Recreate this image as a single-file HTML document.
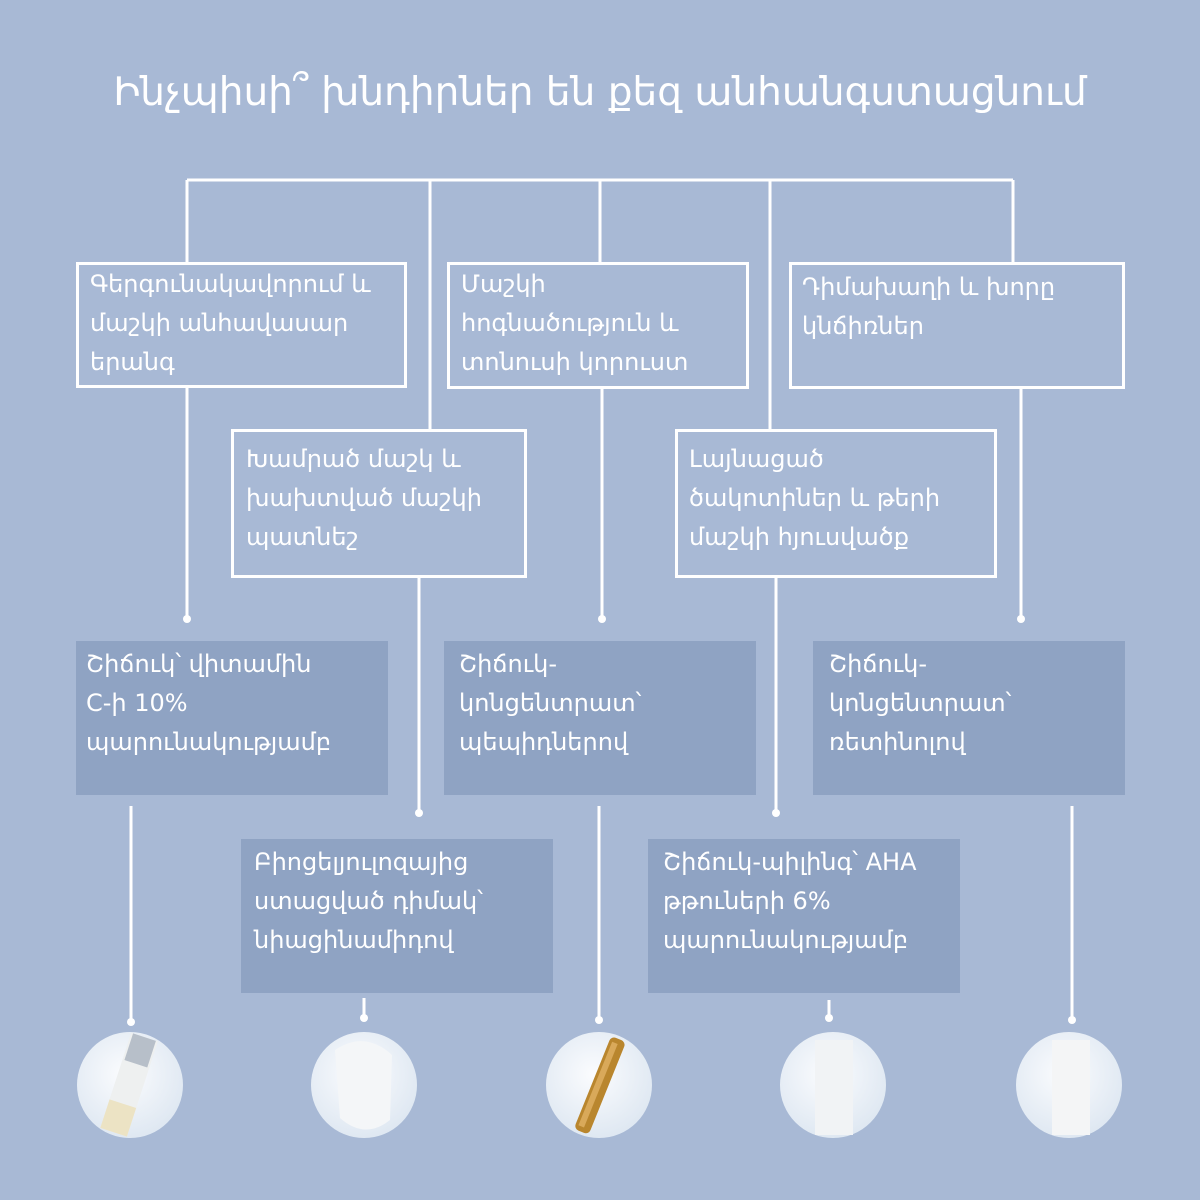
<!DOCTYPE html>
<html><head><meta charset="utf-8"><style>
body{margin:0;width:1200px;height:1200px;background:#a8b9d5;position:relative;overflow:hidden;font-family:"DejaVu Sans","Liberation Sans",sans-serif;color:#fff}
.t{position:absolute;font-size:24px;line-height:39px;white-space:nowrap}
.b{position:absolute;box-sizing:border-box;border:3px solid #fff}
.p{position:absolute;background:#8fa3c3}
h1{position:absolute;left:0;width:1200px;top:68px;margin:0;text-align:center;font-weight:normal;font-size:39px;line-height:50px}
</style></head><body>
<svg width="1200" height="1200" style="position:absolute;left:0;top:0">
<g stroke="#fff" stroke-width="3" fill="none">
<path d="M187 180H1013M187 180V263M430 180V430M600 180V263M770 180V430M1013 180V263"/>
<path d="M187 387V618M419 577V812M602 388V618M776 577V812M1021 388V618"/>
<path d="M131 806V1022M364 998V1018M599 806V1020M829 1000V1018M1072 806V1020"/>
</g>
<g fill="#fff">
<circle cx="187" cy="619" r="4"/><circle cx="419" cy="813" r="4"/><circle cx="602" cy="619" r="4"/><circle cx="776" cy="813" r="4"/><circle cx="1021" cy="619" r="4"/>
<circle cx="131" cy="1022" r="4"/><circle cx="364" cy="1018" r="4"/><circle cx="599" cy="1020" r="4"/><circle cx="829" cy="1018" r="4"/><circle cx="1072" cy="1020" r="4"/>
</g>
<defs><radialGradient id="g" cx="45%" cy="40%" r="60%"><stop offset="0" stop-color="#fbfcfe"/><stop offset="1" stop-color="#dfe8f2"/></radialGradient></defs>
<g fill="url(#g)">
<circle cx="130" cy="1085" r="53"/><circle cx="364" cy="1085" r="53"/><circle cx="599" cy="1085" r="53"/><circle cx="833" cy="1085" r="53"/><circle cx="1069" cy="1085" r="53"/>
</g>
<g transform="rotate(18 130 1085)"><rect x="115" y="1035" width="28" height="100" fill="#eef0f0"/><rect x="117" y="1035" width="24" height="28" fill="#b7bfc9"/><rect x="115" y="1105" width="28" height="30" fill="#ece3c4"/></g>
<path d="M335 1050Q365 1030 392 1055L390 1120Q365 1140 340 1118Z" fill="#f4f6f8"/>
<g transform="rotate(22 599 1085)"><rect x="592" y="1035" width="16" height="100" rx="5" fill="#b9862e"/><rect x="595" y="1040" width="6" height="90" fill="#d9a95a"/></g>
<rect x="815" y="1040" width="38" height="95" fill="#f1f3f5"/><rect x="1052" y="1040" width="38" height="95" fill="#f4f5f6"/>
</svg>
<h1>Ինչպիսի՞ խնդիրներ են քեզ անհանգստացնում</h1>
<div class="b" style="left:76px;top:262px;width:331px;height:126px"></div>
<div class="b" style="left:447px;top:262px;width:302px;height:127px"></div>
<div class="b" style="left:789px;top:262px;width:336px;height:127px"></div>
<div class="b" style="left:231px;top:429px;width:296px;height:149px"></div>
<div class="b" style="left:675px;top:429px;width:322px;height:149px"></div>
<div class="t" style="left:90px;top:265px">Գերգունակավորում և<br>մաշկի անհավասար<br>երանգ</div>
<div class="t" style="left:461px;top:265px">Մաշկի<br>հոգնածություն և<br>տոնուսի կորուստ</div>
<div class="t" style="left:802px;top:268px">Դիմախաղի և խորը<br>կնճիռներ</div>
<div class="t" style="left:246px;top:440px">Խամրած մաշկ և<br>խախտված մաշկի<br>պատնեշ</div>
<div class="t" style="left:689px;top:440px">Լայնացած<br>ծակոտիներ և թերի<br>մաշկի հյուսվածք</div>
<div class="p" style="left:76px;top:641px;width:312px;height:154px"></div>
<div class="p" style="left:444px;top:641px;width:312px;height:154px"></div>
<div class="p" style="left:813px;top:641px;width:312px;height:154px"></div>
<div class="p" style="left:241px;top:839px;width:312px;height:154px"></div>
<div class="p" style="left:648px;top:839px;width:312px;height:154px"></div>
<div class="t" style="left:86px;top:645px">Շիճուկ՝ վիտամին<br>C-ի 10%<br>պարունակությամբ</div>
<div class="t" style="left:459px;top:645px">Շիճուկ-<br>կոնցենտրատ՝<br>պեպիդներով</div>
<div class="t" style="left:829px;top:645px">Շիճուկ-<br>կոնցենտրատ՝<br>ռետինոլով</div>
<div class="t" style="left:254px;top:843px">Բիոցելյուլոզայից<br>ստացված դիմակ՝<br>նիացինամիդով</div>
<div class="t" style="left:663px;top:843px">Շիճուկ-պիլինգ՝ AHA<br>թթուների 6%<br>պարունակությամբ</div>
</body></html>
